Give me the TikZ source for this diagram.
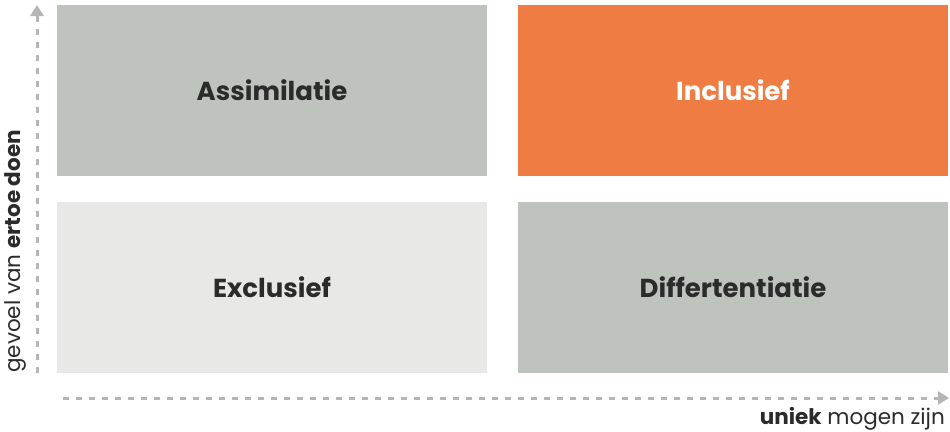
\documentclass[tikz,border=0pt]{standalone}
\usepackage{fontspec}
\setmainfont{Poppins}
\usetikzlibrary{arrows.meta}
\definecolor{sage}{HTML}{BEC4BD}
\definecolor{orng}{HTML}{EF7D43}
\definecolor{lgrey}{HTML}{E8E8E6}
\definecolor{txt}{HTML}{2B2B2B}
\definecolor{axisc}{HTML}{B5B5B5}
\tikzset{
  quad/.style={minimum width=430pt,minimum height=171pt,inner sep=0pt,outer sep=0pt,font=\fontsize{26}{30}\selectfont\bfseries},
  axisline/.style={draw=axisc,line width=3pt,dash pattern=on 6pt off 7pt,-{Triangle[width=13pt,length=11pt]}},
  axlabel/.style={font=\fontsize{21.5}{24}\selectfont,text=txt,inner sep=0pt}
}
\begin{document}
\begin{tikzpicture}[x=1pt,y=-1pt]
\useasboundingbox (0,0) rectangle (950,431);
\node[quad,fill=sage,text=txt] (a) at (272,90.5) {Assimilatie};
\node[quad,fill=orng,text=white] (i) at (733,90.5) {Inclusief};
\node[quad,fill=lgrey,text=txt] (e) at (272,287.5) {Exclusief};
\node[quad,fill=sage,text=txt] (d) at (733,287.5) {Differtentiatie};
\coordinate (v0) at (37,373);
\coordinate (v1) at (37,5);
\coordinate (h0) at (63,398);
\coordinate (h1) at (949,398);
\draw[axisline] (v0) -- (v1);
\draw[axisline] (h0) -- (h1);
\node[axlabel,anchor=base east] (hl) at (945,424) {\textbf{uniek} mogen zijn};
\node[axlabel,anchor=south west] (vl) at (4,373) {\rotatebox{90}{gevoel van \textbf{ertoe doen}}};
\end{tikzpicture}
\end{document}
